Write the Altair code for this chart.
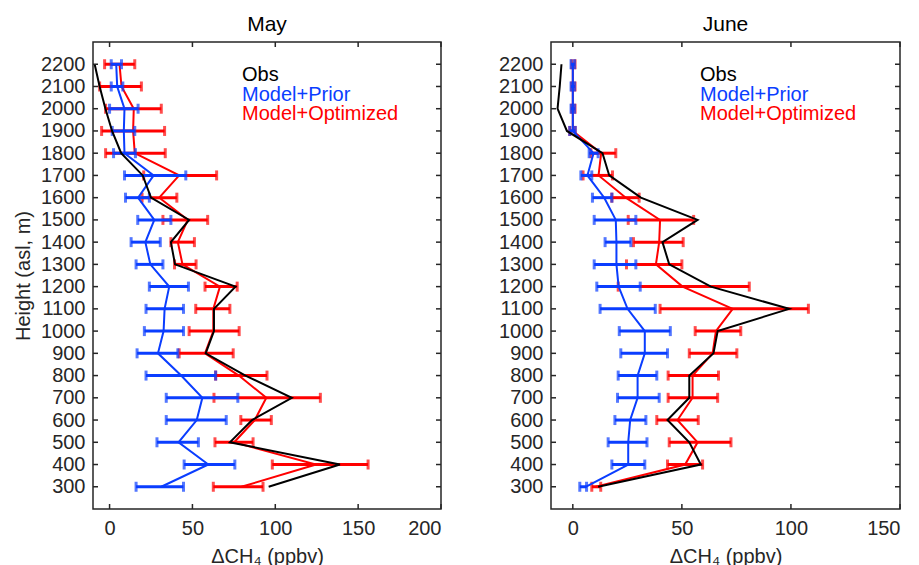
import altair as alt
import pandas as pd

heights = [2200, 2100, 2000, 1900, 1800, 1700, 1600, 1500, 1400, 1300,
           1200, 1100, 1000, 900, 800, 700, 600, 500, 400, 300]

# May
may_obs = [-9, -6, -2.5, 1.5, 7, 20, 25, 48, 37, 39.5, 76, 63, 63, 58, 82, 110, 86, 72.6, 139, 96]
may_prior = [4, 4.6, 9, 8.6, 9, 26.6, 17.2, 27, 21.6, 24.6, 36, 33.2, 32.6, 29.2, 43.2, 56, 52.6, 41.6, 59.6, 31.2]
may_prior_lo = [1, 1, 0, 1.6, 2.4, 9, 9.6, 17, 13, 16, 24, 22, 21, 16.6, 22, 34.2, 34.2, 28.6, 45, 16]
may_prior_hi = [7.2, 8, 17.2, 15.2, 15.6, 46, 24, 37, 30.6, 32.2, 47.6, 44.6, 44.6, 41.2, 64, 77.4, 70.4, 53.6, 75.6, 44.6]
may_opt = [6, 7.2, 14.6, 14.2, 15.2, 42, 30, 47.2, 41.2, 44, 66.6, 62.6, 62.6, 57.6, 78, 94.6, 87.6, 75.2, 124.6, 79.6]
may_opt_lo = [-3, -6, -2.4, -4.8, -2.4, 20.6, 19.6, 32.2, 37, 39.2, 57.6, 52, 48, 42, 64, 63, 79.2, 63.6, 98.2, 62.6]
may_opt_hi = [15.2, 19.2, 31.2, 33.2, 33.6, 64.6, 40.6, 59.2, 51.2, 52.2, 77, 72.6, 78.2, 74.6, 95, 127.2, 97.6, 86.6, 156, 92.6]

# June
jun_obs = [-5.2, -6, -7, -2.7, 13.6, 16.7, 31.2, 57.2, 41.1, 44.2, 63.3, 99.2, 66.4, 64.5, 53.4, 53.4, 43.4, 53.4, 58.7, 11.6]
jun_prior = [0, 0, 0, 0, 9.5, 6.7, 14.4, 19.7, 20, 20, 21, 25.1, 33, 33, 29.7, 29.7, 26.3, 25.4, 25.4, 5.9]
jun_prior_lo = [-0.8, -0.8, -0.8, -1.4, 7.5, 3.7, 9, 9.8, 14.8, 9.8, 11, 12.5, 21.3, 22, 20.8, 20.5, 19.3, 16.2, 17.9, 3.2]
jun_prior_hi = [0.8, 0.8, 0.8, 1.1, 11.6, 8.7, 17.9, 28.9, 26.6, 28.9, 30.9, 37.8, 44.7, 43.4, 38.5, 39.6, 33.5, 34, 33, 6.3]
jun_opt = [0, 0, 0, 0, 13, 11.8, 24.3, 40, 39.6, 38.1, 50.3, 73.3, 65.6, 64.1, 54.9, 54.9, 48, 57.2, 51.5, 10.5]
jun_opt_lo = [-0.5, -0.5, -0.5, -1.4, 8.3, 4.7, 17.9, 25.4, 27.8, 24.6, 20.8, 40, 56.1, 53.4, 43.7, 43.7, 38.5, 44.2, 43.4, 8.7]
jun_opt_hi = [1.0, 1.0, 1.0, 1.1, 19.7, 18.2, 30.4, 55.4, 50.6, 50, 80.9, 108, 77, 75.2, 66.8, 66.4, 57.5, 72.5, 59.5, 12.8]

may_xticks = [0, 50, 100, 150, 200]
jun_xticks = [0, 50, 100, 150]
legend_labels = ["Obs", "Model+Prior", "Model+Optimized"]

BLACK = "#000000"
BLUE = "#0A3DFF"
RED = "#FF0000"
GRAY = "#262626"
FONT = "Liberation Sans"
H = 467


def panel(title, obs, pr, pr_lo, pr_hi, op, op_lo, op_hi, xmax, xticks, width, ytitle):
    df = pd.DataFrame({
        "height": heights, "obs": obs,
        "pr": pr, "pr_lo": pr_lo, "pr_hi": pr_hi,
        "op": op, "op_lo": op_lo, "op_hi": op_hi,
    })
    xs = alt.Scale(domain=[-10, xmax], nice=False, zero=False)
    ys = alt.Scale(domain=[200, 2300], nice=False, zero=False)
    xaxis = alt.Axis(values=xticks, format="d", title="ΔCH₄ (ppbv)", ticks=False, tickSize=0,
                     domain=False, grid=False, labelFont=FONT, labelFontSize=20,
                     labelColor=GRAY, labelPadding=9, titleFont=FONT, titleFontSize=20,
                     titleFontWeight="normal", titleColor=GRAY, titlePadding=8)
    yaxis = alt.Axis(values=heights, format="d", title=ytitle, ticks=False, tickSize=0,
                     domain=False, grid=False, labelFont=FONT, labelFontSize=20,
                     labelColor=GRAY, labelPadding=8, titleFont=FONT, titleFontSize=20,
                     titleFontWeight="normal", titleColor=GRAY, titlePadding=7)

    def X(f):
        return alt.X(f, scale=xs, axis=xaxis)

    def Y(f):
        return alt.Y(f, scale=ys, axis=yaxis)

    base = alt.Chart(df)
    obs_line = base.mark_line(color=BLACK, strokeWidth=2).encode(
        x=X("obs:Q"), y=Y("height:Q"), order="height:Q")
    pr_line = base.mark_line(color=BLUE, strokeWidth=2).encode(
        x=X("pr:Q"), y=Y("height:Q"), order="height:Q")
    op_line = base.mark_line(color=RED, strokeWidth=2).encode(
        x=X("op:Q"), y=Y("height:Q"), order="height:Q")

    def bars(lo, hi, color):
        r = base.mark_rule(color=color, strokeWidth=3).encode(
            x=X(f"{lo}:Q"), x2=f"{hi}:Q", y=Y("height:Q"))
        c1 = base.mark_tick(color=color, orient="vertical", size=10, thickness=3).encode(
            x=X(f"{lo}:Q"), y=Y("height:Q"))
        c2 = base.mark_tick(color=color, orient="vertical", size=10, thickness=3).encode(
            x=X(f"{hi}:Q"), y=Y("height:Q"))
        return [r, c1, c2]

    # inward tick marks on the box
    ytick_df = pd.DataFrame({"height": heights})
    xtick_df = pd.DataFrame({"xt": xticks})
    yl = alt.Chart(ytick_df).mark_rule(color=GRAY, strokeWidth=1.5).encode(
        y=Y("height:Q"), x=alt.value(0), x2=alt.value(5))
    yr = alt.Chart(ytick_df).mark_rule(color=GRAY, strokeWidth=1.5).encode(
        y=Y("height:Q"), x=alt.value(width - 5), x2=alt.value(width))
    xb = alt.Chart(xtick_df).mark_rule(color=GRAY, strokeWidth=1.5).encode(
        x=X("xt:Q"), y=alt.value(H - 5), y2=alt.value(H))
    xt = alt.Chart(xtick_df).mark_rule(color=GRAY, strokeWidth=1.5).encode(
        x=X("xt:Q"), y=alt.value(0), y2=alt.value(5))

    leg = []
    for lab, col, yy in zip(legend_labels, [BLACK, BLUE, RED], [39, 59, 78]):
        leg.append(alt.Chart(pd.DataFrame({"t": [lab]})).mark_text(
            align="left", baseline="alphabetic", font=FONT, fontSize=20, color=col
        ).encode(text="t:N", x=alt.value(149), y=alt.value(yy)))

    layers = bars("op_lo", "op_hi", RED) + [op_line] + \
        bars("pr_lo", "pr_hi", BLUE) + [pr_line, obs_line, yl, yr, xb, xt] + leg
    return alt.layer(*layers).properties(
        width=width, height=H,
        title=alt.TitleParams(title, font=FONT, fontSize=21, fontWeight="normal",
                              color=BLACK, offset=6))


left = panel("May", may_obs, may_prior, may_prior_lo, may_prior_hi,
             may_opt, may_opt_lo, may_opt_hi, 200, may_xticks, 348, "Height (asl, m)")
right = panel("June", jun_obs, jun_prior, jun_prior_lo, jun_prior_hi,
              jun_opt, jun_opt_lo, jun_opt_hi, 150, jun_xticks, 349, "")

chart = alt.hconcat(left, right, spacing=54).properties(
    padding={"left": 12, "top": 13, "right": 5, "bottom": 5},
    background="white"
).configure_view(stroke=GRAY, strokeWidth=1.5)

chart.save("out.html", embed_options={"renderer": "svg", "actions": False})
